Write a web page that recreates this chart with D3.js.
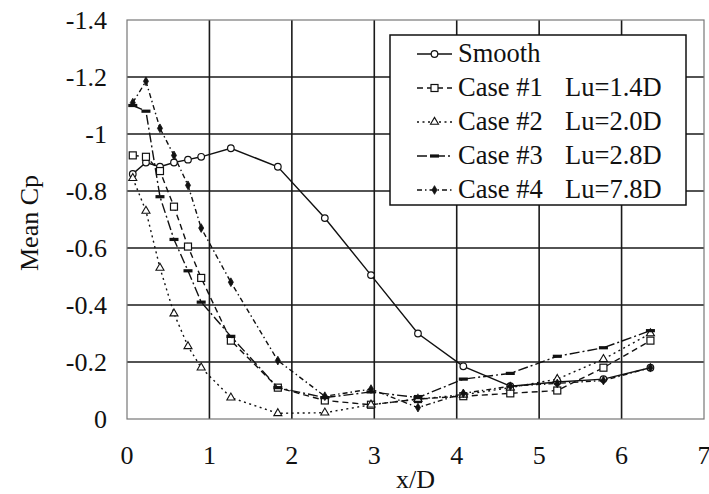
<!DOCTYPE html>
<html>
<head>
<meta charset="utf-8">
<script src="https://cdn.jsdelivr.net/npm/d3@7"></script>
<style>
  body { margin: 0; background: #fff; }
  svg text { font-family: "Liberation Serif", "Times New Roman", "DejaVu Serif", serif; fill: #111; }
</style>
</head>
<body>
<svg id="chart"></svg>
<script>
const width = 709;
const height = 494;
const margin = { top: 20, right: 5, bottom: 75, left: 127 };

// tap positions, x/D
const xPos = [0.07, 0.23, 0.40, 0.57, 0.74, 0.90, 1.26, 1.83, 2.40, 2.96, 3.53, 4.08, 4.65, 5.22, 5.78, 6.35];

const smooth = [-0.86, -0.90, -0.885, -0.90, -0.91, -0.92, -0.95, -0.885, -0.705, -0.505, -0.30, -0.185, -0.115, -0.13, -0.14, -0.18];
const case1 = [-0.925, -0.92, -0.87, -0.745, -0.605, -0.495, -0.275, -0.11, -0.065, -0.05, -0.07, -0.08, -0.09, -0.10, -0.18, -0.275];
const case2 = [-0.845, -0.73, -0.53, -0.37, -0.255, -0.18, -0.075, -0.02, -0.022, -0.05, -0.07, -0.085, -0.11, -0.14, -0.21, -0.30];
const case3 = [-1.10, -1.08, -0.78, -0.63, -0.52, -0.41, -0.29, -0.11, -0.075, -0.095, -0.075, -0.14, -0.16, -0.22, -0.25, -0.31];
const case4 = [-1.11, -1.185, -1.02, -0.925, -0.82, -0.67, -0.48, -0.205, -0.08, -0.105, -0.04, -0.09, -0.115, -0.125, -0.135, -0.18];

const seriesNames = ['Smooth', 'Case #1', 'Case #2', 'Case #3', 'Case #4'];
const seriesLu = ['', 'Lu=1.4D', 'Lu=2.0D', 'Lu=2.8D', 'Lu=7.8D'];

const xTicks = [0, 1, 2, 3, 4, 5, 6, 7];
const yTicks = [0, -0.2, -0.4, -0.6, -0.8, -1, -1.2, -1.4];

const series = [smooth, case1, case2, case3, case4].map((vals, i) => ({
  name: seriesNames[i],
  lu: seriesLu[i],
  points: vals.map((v, j) => ({ x: xPos[j], y: v }))
}));

const styles = [
  { dash: null, marker: 'circle' },
  { dash: '6,4', marker: 'square' },
  { dash: '2,3.5', marker: 'triangle' },
  { dash: '10,3,2,3', marker: 'bar' },
  { dash: '5,3,1.5,3', marker: 'diamond' }
];

const svg = d3.select('#chart')
  .attr('width', width)
  .attr('height', height);

const innerW = width - margin.left - margin.right;
const innerH = height - margin.top - margin.bottom;

const x = d3.scaleLinear().domain([0, 7]).range([margin.left, margin.left + innerW]);
const y = d3.scaleLinear().domain([0, -1.4]).range([margin.top + innerH, margin.top]);

// grid
svg.append('g')
  .selectAll('line')
  .data(xTicks.slice(1, -1))
  .enter()
  .append('line')
  .attr('x1', d => x(d)).attr('x2', d => x(d))
  .attr('y1', y(0)).attr('y2', y(-1.4))
  .attr('stroke', '#1a1a1a')
  .attr('stroke-width', 1.6);

svg.append('g')
  .selectAll('line')
  .data(yTicks.slice(1, -1))
  .enter()
  .append('line')
  .attr('x1', x(0)).attr('x2', x(7))
  .attr('y1', d => y(d)).attr('y2', d => y(d))
  .attr('stroke', '#1a1a1a')
  .attr('stroke-width', 1.6);

svg.append('rect')
  .attr('x', x(0))
  .attr('y', y(-1.4))
  .attr('width', x(7) - x(0))
  .attr('height', y(0) - y(-1.4))
  .attr('fill', 'none')
  .attr('stroke', '#777')
  .attr('stroke-width', 1.2);

// tick labels (plain hyphen minus, as in the original)
svg.append('g')
  .selectAll('text')
  .data(yTicks)
  .enter()
  .append('text')
  .attr('x', 107)
  .attr('y', d => y(d))
  .attr('dy', '0.35em')
  .attr('text-anchor', 'end')
  .style('font-size', '26px')
  .text(d => String(d));

svg.append('g')
  .selectAll('text')
  .data(xTicks)
  .enter()
  .append('text')
  .attr('x', d => x(d))
  .attr('y', 464)
  .attr('text-anchor', 'middle')
  .style('font-size', '26px')
  .text(d => d);

svg.append('text')
  .attr('x', x(3.5))
  .attr('y', 488)
  .attr('text-anchor', 'middle')
  .style('font-size', '26px')
  .text('x/D');

svg.append('text')
  .attr('transform', 'translate(29,223) rotate(-90)')
  .attr('dy', '0.35em')
  .attr('text-anchor', 'middle')
  .style('font-size', '26px')
  .text('Mean Cp');

function drawMarker(g, type, cx, cy) {
  if (type === 'circle') {
    g.append('circle').attr('cx', cx).attr('cy', cy).attr('r', 3.3)
      .attr('fill', '#fff').attr('stroke', '#111').attr('stroke-width', 1.2);
  } else if (type === 'square') {
    g.append('rect').attr('x', cx - 3.5).attr('y', cy - 3.5).attr('width', 7).attr('height', 7)
      .attr('fill', '#fff').attr('stroke', '#111').attr('stroke-width', 1.2);
  } else if (type === 'triangle') {
    g.append('path').attr('d', d3.symbol(d3.symbolTriangle, 28)()).attr('transform', `translate(${cx},${cy})`)
      .attr('fill', '#fff').attr('stroke', '#111').attr('stroke-width', 1.1);
  } else if (type === 'bar') {
    g.append('rect').attr('x', cx - 4.5).attr('y', cy - 1.6).attr('width', 9).attr('height', 3.2)
      .attr('fill', '#111');
  } else if (type === 'diamond') {
    g.append('path').attr('d', d3.symbol(d3.symbolDiamond, 22)()).attr('transform', `translate(${cx},${cy})`)
      .attr('fill', '#111').attr('stroke', '#111').attr('stroke-width', 0.8);
  }
}

const line = d3.line().x(d => x(d.x)).y(d => y(d.y));

series.forEach((s, i) => {
  const g = svg.append('g');
  g.append('path')
    .attr('d', line(s.points))
    .attr('fill', 'none')
    .attr('stroke', '#111')
    .attr('stroke-width', 1.4)
    .attr('stroke-dasharray', styles[i].dash);
  s.points.forEach(p => drawMarker(g, styles[i].marker, x(p.x), y(p.y)));
});

// legend
const legend = svg.append('g');
legend.append('rect')
  .attr('x', 390).attr('y', 35)
  .attr('width', 296).attr('height', 170)
  .attr('fill', '#fff')
  .attr('stroke', '#111')
  .attr('stroke-width', 1.5);

series.forEach((s, i) => {
  const base = 62 + i * 34;
  const cy = base - 8;
  const row = legend.append('g');
  row.append('line')
    .attr('x1', 417).attr('x2', 452)
    .attr('y1', cy).attr('y2', cy)
    .attr('stroke', '#111')
    .attr('stroke-width', 1.3)
    .attr('stroke-dasharray', styles[i].dash);
  drawMarker(row, styles[i].marker, 434.5, cy);
  row.append('text')
    .attr('x', 458).attr('y', base)
    .style('font-size', '26.5px')
    .text(s.name);
  row.append('text')
    .attr('x', 565).attr('y', base)
    .style('font-size', '26.5px')
    .text(s.lu);
});
</script>
</body>
</html>
